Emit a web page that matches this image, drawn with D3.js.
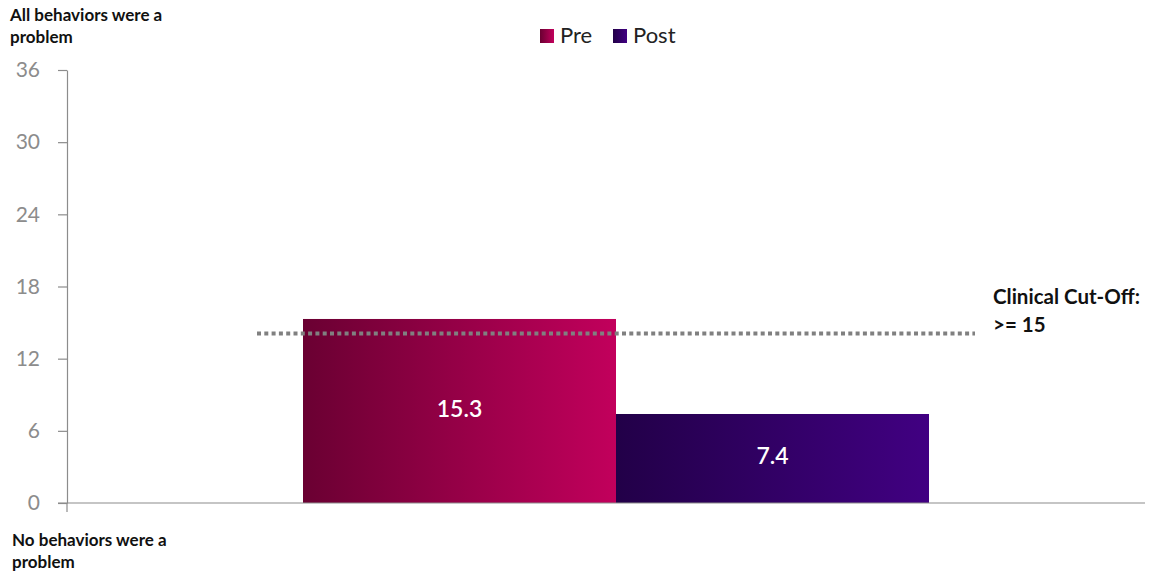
<!DOCTYPE html>
<html>
<head>
<meta charset="utf-8">
<script src="https://cdn.jsdelivr.net/npm/d3@7"></script>
<style>
  html, body { margin: 0; padding: 0; background: #ffffff; }
  svg { display: block; font-family: Lato, "Open Sans", "Liberation Sans", sans-serif; }
</style>
</head>
<body>
<svg id="chart" width="1158" height="573"></svg>
<script>
// Mean problem-behaviour scores before and after the programme
const categories = ["Pre", "Post"];
const values = [15.3, 7.4];
const yTicks = [0, 6, 12, 18, 24, 30, 36];
const cutoffLevel = 14.1;
const cutoffLabel = ["Clinical Cut-Off:", ">= 15"];
const topNote = ["All behaviors were a", "problem"];
const bottomNote = ["No behaviors were a", "problem"];

const gradients = {
  Pre: ["#6a0032", "#c2005c"],
  Post: ["#220048", "#410082"]
};

const svg = d3.select("#chart");
const margin = { left: 67 };

const y = d3.scaleLinear().domain([0, 36]).range([503, 70]);
const x = d3.scaleBand().domain(categories).range([303, 929]).paddingInner(0).paddingOuter(0);

const defs = svg.append("defs");
categories.forEach(c => {
  const g = defs.append("linearGradient").attr("id", "grad-" + c)
    .attr("x1", "0%").attr("x2", "100%").attr("y1", "0%").attr("y2", "0%");
  g.append("stop").attr("offset", "0%").attr("stop-color", gradients[c][0]);
  g.append("stop").attr("offset", "100%").attr("stop-color", gradients[c][1]);
});

// y axis
const yAxis = d3.axisLeft(y).tickValues(yTicks).tickSize(9).tickPadding(18).tickSizeOuter(0);
const ya = svg.append("g").attr("transform", `translate(${margin.left},0)`).call(yAxis);
ya.select(".domain").attr("stroke", "#8c8c8c").attr("stroke-width", 1.2);
ya.selectAll(".tick line").attr("stroke", "#8c8c8c").attr("stroke-width", 1.2);
ya.selectAll(".tick text").attr("fill", "#8c8c8c").style("font-size", "21px")
  .attr("font-family", "Lato, 'Open Sans', sans-serif");
// small extension of the axis below the baseline
svg.append("line").attr("x1", margin.left).attr("x2", margin.left)
  .attr("y1", y(0)).attr("y2", y(0) + 9).attr("stroke", "#8c8c8c").attr("stroke-width", 1.2);

// bars
const bars = svg.append("g");
bars.selectAll("rect").data(categories).join("rect")
  .attr("x", c => x(c))
  .attr("width", x.bandwidth())
  .attr("y", (c, i) => y(values[i]))
  .attr("height", (c, i) => y(0) - y(values[i]))
  .attr("fill", c => `url(#grad-${c})`);

bars.selectAll("text").data(categories).join("text")
  .attr("x", c => x(c) + x.bandwidth() / 2)
  .attr("y", (c, i) => (y(values[i]) + y(0)) / 2 + 6)
  .attr("text-anchor", "middle")
  .attr("fill", "#ffffff")
  .style("font-size", "23px")
  .style("font-weight", "600")
  .text((c, i) => values[i].toFixed(1));

// x baseline
svg.append("line").attr("x1", 58).attr("x2", 1145)
  .attr("y1", y(0)).attr("y2", y(0))
  .attr("stroke", "#8c8c8c").attr("stroke-width", 1.2);

// cut-off line
svg.append("line").attr("x1", 257).attr("x2", 975)
  .attr("y1", y(cutoffLevel)).attr("y2", y(cutoffLevel))
  .attr("stroke", "#808080").attr("stroke-width", 4)
  .attr("stroke-dasharray", "4 3.3");

svg.append("g").selectAll("text").data(cutoffLabel).join("text")
  .attr("x", 993).attr("y", (d, i) => 304 + i * 28)
  .attr("fill", "#111").style("font-size", "20.5px").style("font-weight", "700")
  .text(d => d);

// corner notes
svg.append("g").selectAll("text").data(topNote).join("text")
  .attr("x", 10).attr("y", (d, i) => 21 + i * 22)
  .attr("fill", "#111").style("font-size", "17px").style("font-weight", "700")
  .text(d => d);
svg.append("g").selectAll("text").data(bottomNote).join("text")
  .attr("x", 12).attr("y", (d, i) => 546 + i * 22)
  .attr("fill", "#111").style("font-size", "17px").style("font-weight", "700")
  .text(d => d);

// legend
const legendPos = [540, 613];
const legend = svg.append("g");
categories.forEach((c, i) => {
  legend.append("rect").attr("x", legendPos[i]).attr("y", 29).attr("width", 14).attr("height", 14)
    .attr("fill", `url(#grad-${c})`);
  legend.append("text").attr("x", legendPos[i] + 20).attr("y", 43)
    .attr("fill", "#222").style("font-size", "22px").text(c);
});
</script>
</body>
</html>
